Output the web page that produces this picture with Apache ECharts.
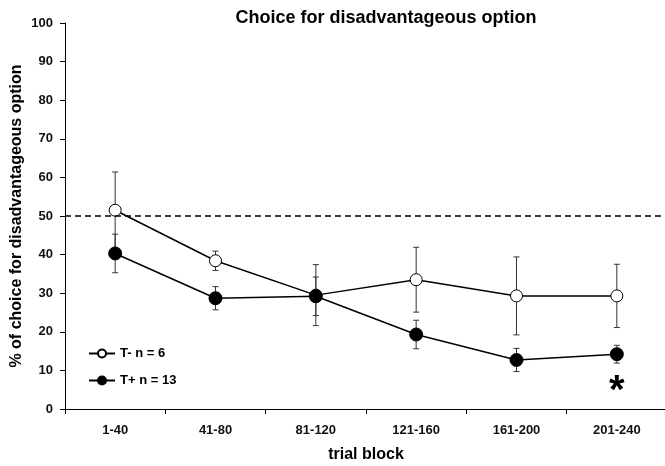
<!DOCTYPE html>
<html>
<head>
<meta charset="utf-8">
<script src="https://cdn.jsdelivr.net/npm/echarts@6/dist/echarts.min.js"></script>
<style>
  html, body { margin: 0; padding: 0; background: #fff; }
  #chart { width: 665px; height: 466px; }
</style>
</head>
<body>
<div id="chart"></div>
<script>
// trial blocks on the x axis
var categories = ['1-40', '41-80', '81-120', '121-160', '161-200', '201-240'];

// T- group (open circles)
var tMinusMean = [51.5, 38.4, 29.5, 33.5, 29.3, 29.3];
var tMinusErr = [9.9, 2.5, 7.9, 8.4, 10.1, 8.2];

// T+ group (filled circles)
var tPlusMean = [40.3, 28.7, 29.2, 19.3, 12.7, 14.2];
var tPlusErr = [5.0, 3.0, 5.0, 3.7, 3.0, 2.3];

var chanceLevel = 50;
var starBlock = '201-240';
var starValue = 4.3;

var font = 'Liberation Sans, Arial, sans-serif';

function errData(mean, err) {
  return mean.map(function (m, i) {
    return [i, m - err[i], m + err[i]];
  });
}

function renderErr(params, api) {
  var i = api.value(0);
  var lo = api.coord([i, api.value(1)]);
  var hi = api.coord([i, api.value(2)]);
  var w = 3;
  var style = { stroke: '#333', lineWidth: 1 };
  return {
    type: 'group',
    children: [
      { type: 'line', shape: { x1: lo[0], y1: lo[1], x2: hi[0], y2: hi[1] }, style: style },
      { type: 'line', shape: { x1: lo[0] - w, y1: lo[1], x2: lo[0] + w, y2: lo[1] }, style: style },
      { type: 'line', shape: { x1: hi[0] - w, y1: hi[1], x2: hi[0] + w, y2: hi[1] }, style: style }
    ]
  };
}

var chart = echarts.init(document.getElementById('chart'), null, { renderer: 'canvas' });

var option = {
  backgroundColor: '#ffffff',
  animation: false,
  title: {
    text: 'Choice for disadvantageous option',
    left: 381,
    textAlign: 'center',
    top: 4,
    textStyle: { fontFamily: font, fontSize: 18, fontWeight: 'bold', color: '#000' }
  },
  legend: {
    orient: 'vertical',
    left: 83,
    top: 342,
    itemWidth: 26,
    itemHeight: 10,
    itemGap: 14,
    textStyle: { fontFamily: font, fontSize: 13, fontWeight: 'bold', color: '#000' },
    data: ['T- n = 6', 'T+ n = 13']
  },
  grid: { left: 65, right: -2, top: 23, bottom: 57, containLabel: false, outerBoundsMode: 'none' },
  xAxis: {
    type: 'category',
    data: categories,
    boundaryGap: true,
    name: 'trial block',
    nameLocation: 'middle',
    nameGap: 38,
    nameMoveOverlap: false,
    nameTextStyle: { fontFamily: font, fontSize: 16, fontWeight: 'bold', color: '#000' },
    axisLine: { lineStyle: { color: '#000', width: 1 } },
    axisTick: { show: true, alignWithLabel: false, length: 5, lineStyle: { color: '#000' } },
    axisLabel: { margin: 15, fontFamily: font, fontSize: 13, fontWeight: 'bold', color: '#111' },
    splitLine: { show: false }
  },
  yAxis: {
    type: 'value',
    min: 0,
    max: 100,
    interval: 10,
    name: '% of choice for disadvantageous option',
    nameLocation: 'middle',
    nameGap: 40,
    nameMoveOverlap: false,
    nameTextStyle: { fontFamily: font, fontSize: 16, fontWeight: 'bold', color: '#000' },
    axisLine: { show: true, lineStyle: { color: '#000', width: 1 } },
    axisTick: { show: true, length: 5, lineStyle: { color: '#000' } },
    axisLabel: { margin: 12, fontFamily: font, fontSize: 13, fontWeight: 'bold', color: '#111' },
    splitLine: { show: false }
  },
  series: [
    {
      type: 'custom',
      name: 'err-',
      data: errData(tMinusMean, tMinusErr),
      renderItem: renderErr,
      z: 1,
      silent: true
    },
    {
      type: 'custom',
      name: 'err+',
      data: errData(tPlusMean, tPlusErr),
      renderItem: renderErr,
      z: 1,
      silent: true
    },
    {
      name: 'T- n = 6',
      type: 'line',
      data: tMinusMean,
      symbol: 'circle',
      symbolSize: 12,
      z: 3,
      lineStyle: { color: '#000', width: 1.5 },
      itemStyle: { color: '#fff', borderColor: '#000', borderWidth: 1 },
      markLine: {
        silent: true,
        symbol: 'none',
        label: { show: false },
        lineStyle: { color: '#000', type: [6, 4], width: 1.5 },
        data: [{ yAxis: chanceLevel }]
      }
    },
    {
      name: 'T+ n = 13',
      type: 'line',
      data: tPlusMean,
      symbol: 'circle',
      symbolSize: 13,
      z: 4,
      lineStyle: { color: '#000', width: 1.5 },
      itemStyle: { color: '#000', borderColor: '#000', borderWidth: 1 },
      markPoint: {
        silent: true,
        symbol: 'circle',
        symbolSize: 0,
        label: {
          show: true,
          formatter: '*',
          fontFamily: font,
          fontSize: 40,
          fontWeight: 'bold',
          color: '#000'
        },
        data: [{ coord: [starBlock, starValue] }]
      }
    }
  ]
};

chart.setOption(option);
</script>
</body>
</html>
